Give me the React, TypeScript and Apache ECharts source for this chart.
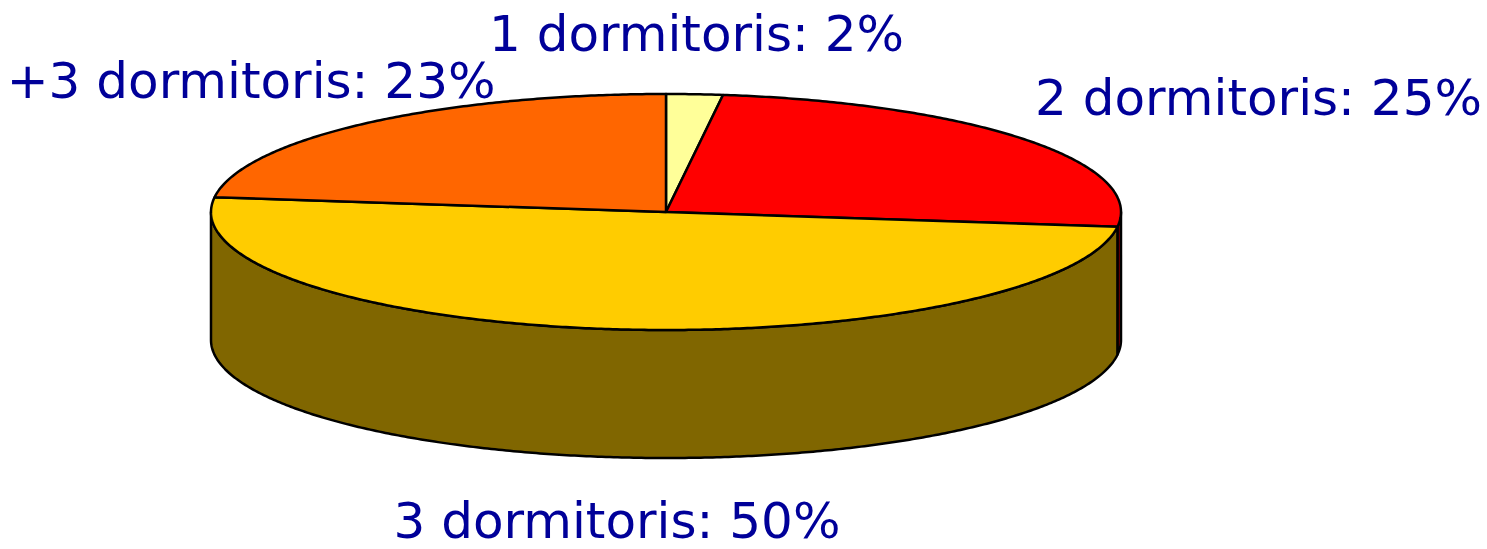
import React, { useEffect, useRef } from "react";
import * as echarts from "echarts";

// ---- data ----
const categories = ["1 dormitoris", "2 dormitoris", "3 dormitoris", "+3 dormitoris"];
const values = [2, 25, 50, 23];
const topColors = ["#FFFF99", "#FF0000", "#FFCC00", "#FF6600"];
const sideColors = ["#80804D", "#800000", "#806600", "#803300"];
// label offsets (layout) relative to the rim point at the slice's middle angle
const labelOffsets = [
  [2, -60],
  [233, -42],
  [8, 192],
  [-114, -42],
];

// ---- layout ----
const CX = 666;
const CY = 212;
const RX = 455;
const RY = 118;
const DEPTH = 128;
const FONT = "DejaVu Sans, Verdana, sans-serif";
const LABEL_COLOR = "#000099";

function pt(theta: number, dy: number) {
  return [CX + RX * Math.sin(theta), CY - RY * Math.cos(theta) + dy];
}

function arc(a: number, b: number, dy: number) {
  const n = Math.max(2, Math.ceil(((b - a) * 180) / Math.PI / 0.5) + 1);
  const pts: number[][] = [];
  for (let i = 0; i < n; i++) {
    const t = a + ((b - a) * i) / (n - 1);
    pts.push(pt(t, dy));
  }
  return pts;
}

export default function App() {
  const ref = useRef<HTMLDivElement>(null);
  useEffect(() => {
    if (!ref.current) return;
    const chart = echarts.init(ref.current, undefined, { renderer: "svg" });
    const total = values.reduce((s, v) => s + v, 0);
    let acc = 0;
    const data = values.map((v, i) => {
      const start = acc;
      acc += v;
      return { name: categories[i], value: [v, start, i] };
    });

    chart.setOption({
      animation: false,
      backgroundColor: "#ffffff",
      series: [
        {
          type: "custom",
          coordinateSystem: "none",
          silent: true,
          data,
          renderItem: (params: any, api: any) => {
            const v = api.value(0);
            const start = api.value(1);
            const idx = params.dataIndex;
            const a = (start / total) * Math.PI * 2;
            const b = ((start + v) / total) * Math.PI * 2;
            const children: any[] = [];
            // side wall (front half only: 90deg .. 270deg)
            const fa = Math.max(a, Math.PI / 2);
            const fb = Math.min(b, (Math.PI * 3) / 2);
            if (fb > fa) {
              const topArc = arc(fa, fb, 0);
              const botArc = arc(fa, fb, DEPTH).reverse();
              children.push({
                type: "polygon",
                shape: { points: topArc.concat(botArc) },
                style: {
                  fill: sideColors[idx],
                  stroke: "#000000",
                  lineWidth: 2.5,
                  lineJoin: "round",
                },
              });
            }
            // top face
            children.push({
              type: "polygon",
              shape: { points: [[CX, CY]].concat(arc(a, b, 0)) },
              style: {
                fill: topColors[idx],
                stroke: "#000000",
                lineWidth: 2.5,
                lineJoin: "round",
              },
            });
            // label
            const mid = (a + b) / 2;
            const rim = pt(mid, 0);
            const off = labelOffsets[idx];
            const pct = Math.round((v / total) * 100);
            children.push({
              type: "text",
              x: rim[0] + off[0],
              y: rim[1] + off[1],
              z2: 100,
              style: {
                text: `${categories[idx]}: ${pct}%`,
                fill: LABEL_COLOR,
                fontSize: 50,
                lineHeight: 36,
                fontFamily: FONT,
                align: "center",
                verticalAlign: "middle",
                textAlign: "center",
                textVerticalAlign: "middle",
              },
            });
            return { type: "group", children };
          },
        },
      ],
    });
    return () => chart.dispose();
  }, []);
  return (
    <div
      ref={ref}
      style={{ position: "absolute", left: 0, top: 0, width: 1487, height: 549 }}
    />
  );
}
